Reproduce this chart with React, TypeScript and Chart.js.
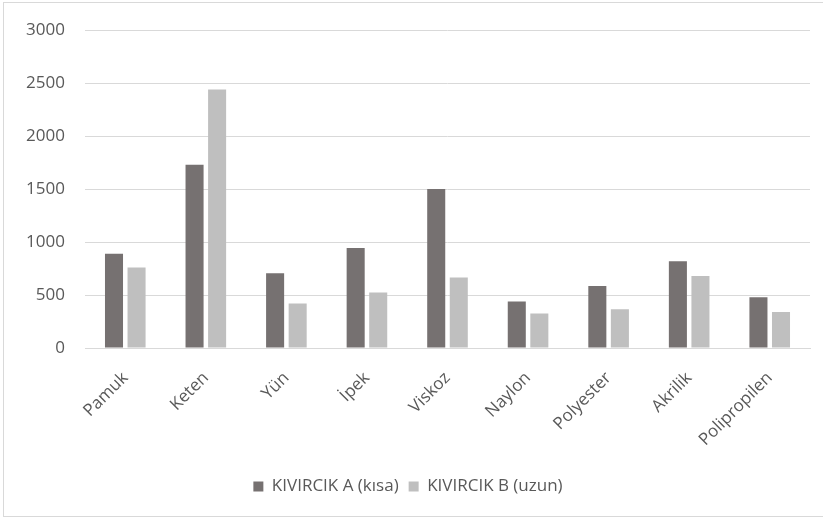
import React, { useEffect, useRef } from "react";
import { Chart, registerables } from "chart.js";

Chart.register(...registerables);

const categories = ["Pamuk", "Keten", "Yün", "İpek", "Viskoz", "Naylon", "Polyester", "Akrilik", "Polipropilen"];
const seriesA = [890, 1730, 705, 945, 1500, 440, 585, 820, 480];
const seriesB = [760, 2440, 420, 525, 665, 325, 365, 680, 340];
const seriesNames = ["KIVIRCIK A (kısa)", "KIVIRCIK B (uzun)"];
const yTicks = [0, 500, 1000, 1500, 2000, 2500, 3000];

const FONT = "'Open Sans', sans-serif";

export default function App() {
  const ref = useRef<HTMLCanvasElement>(null);
  useEffect(() => {
    if (!ref.current) return;
    const chart = new Chart(ref.current, {
      type: "bar",
      data: {
        labels: categories,
        datasets: [
          { label: seriesNames[0], data: seriesA, backgroundColor: "#767171", borderWidth: 0 },
          { label: seriesNames[1], data: seriesB, backgroundColor: "#bfbfbf", borderWidth: 0 },
        ],
      },
      options: {
        responsive: false,
        animation: false,
        layout: { padding: { top: 15, left: 6, right: 13, bottom: 14 } },
        datasets: { bar: { categoryPercentage: 0.56, barPercentage: 0.8 } },
        plugins: {
          tooltip: { enabled: false },
          legend: {
            position: "bottom",
            labels: {
              font: { family: FONT, size: 17 },
              color: "#595959",
              boxWidth: 10,
              boxHeight: 10,
              padding: 10,
            },
          },
        },
        scales: {
          x: {
            grid: { display: false },
            border: { display: true, color: "#d9d9d9", width: 1 },
            ticks: {
              font: { family: FONT, size: 17 },
              color: "#595959",
              minRotation: 45,
              maxRotation: 45,
              padding: 12,
            },
            afterFit: (s: any) => { s.height = 120; },
          },
          y: {
            min: 0,
            max: 3000,
            afterBuildTicks: (s: any) => { s.ticks = yTicks.map((v) => ({ value: v })); },
            grid: { color: "#d9d9d9", drawTicks: false },
            border: { display: false },
            ticks: {
              font: { family: FONT, size: 17 },
              color: "#595959",
              padding: 20,
              callback: (v: any) => String(v),
            },
            afterFit: (s: any) => { s.width = 79; },
          },
        },
      },
    });
    return () => chart.destroy();
  }, []);
  return (
    <div style={{ position: "fixed", left: 0, top: 0, width: 823, height: 519, overflow: "hidden", background: "#fff" }}>
      <div style={{ position: "absolute", left: 3, top: 2, width: 840, height: 515, border: "1px solid #d9d9d9", boxSizing: "border-box" }} />
      <canvas ref={ref} width={823} height={519} style={{ position: "absolute", left: 0, top: 0 }} />
    </div>
  );
}
